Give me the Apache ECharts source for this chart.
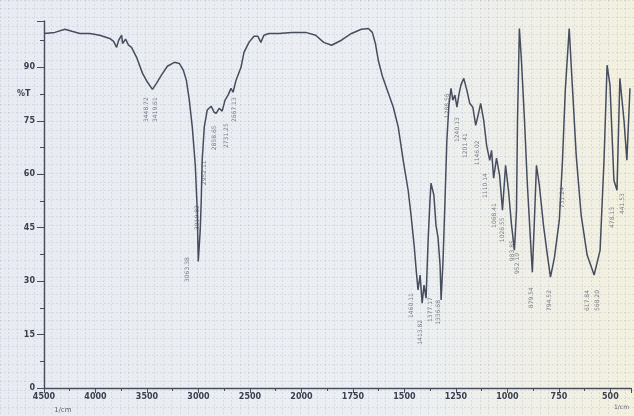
<!DOCTYPE html>
<html>
<head>
<meta charset="utf-8">
<script src="https://cdn.jsdelivr.net/npm/echarts@6/dist/echarts.min.js"></script>
<style>
  html, body { margin: 0; padding: 0; }
  #main { width: 634px; height: 416px; }
</style>
</head>
<body>
<div id="main"></div>
<script>
// IR spectrum, %T against wavenumber (scale changes at 2000)
var tickLabels = ['4500', '4000', '3500', '3000', '2500', '2000', '1750', '1500', '1250', '1000', '750', '500'];
var yTicks = [0, 15, 30, 45, 60, 75, 90];

var wavenumbers = [4500, 4394, 4297, 4229, 4152, 4056, 3959, 3862, 3824, 3795, 3775, 3746, 3737, 3708, 3679, 3650, 3601, 3543, 3495, 3447,
  3408, 3360, 3302, 3234, 3186, 3147, 3118, 3089, 3060, 3031, 3012, 3002, 2983, 2973, 2964, 2944, 2915, 2877, 2848, 2828,
  2799, 2770, 2742, 2713, 2684, 2664, 2635, 2587, 2558, 2510, 2461, 2423, 2394, 2365, 2316, 2220, 2094, 1979, 1931, 1892,
  1854, 1806, 1757, 1709, 1675, 1656, 1641, 1627, 1607, 1578, 1554, 1530, 1506, 1482, 1468, 1453, 1443, 1434, 1424, 1414,
  1405, 1395, 1385, 1376, 1371, 1357, 1347, 1337, 1327, 1322, 1313, 1303, 1294, 1284, 1274, 1265, 1255, 1245, 1236, 1226,
  1212, 1197, 1183, 1168, 1154, 1139, 1130, 1115, 1101, 1086, 1077, 1067, 1053, 1038, 1024, 1009, 995, 980, 966, 956,
  951, 942, 932, 917, 903, 888, 879, 869, 859, 845, 825, 806, 791, 772, 748, 733, 719, 700, 685, 666,
  642, 613, 579, 550, 531, 516, 502, 483, 468, 454, 434, 420, 405];
var transmittance = [99.5, 99.8, 100.7, 100.1, 99.5, 99.5, 99.0, 98.1, 97.3, 95.6, 97.6, 99.0, 96.7, 97.9, 96.2, 95.6, 92.8, 88.3, 85.8, 83.8,
  85.5, 87.8, 90.3, 91.4, 91.1, 89.2, 86.4, 80.8, 73.2, 62.5, 49.9, 35.5, 44.3, 52.7, 63.9, 73.2, 78.0, 79.1, 77.4, 77.1,
  78.5, 77.7, 80.8, 82.2, 84.1, 83.0, 86.4, 90.0, 94.2, 97.0, 98.7, 98.7, 97.0, 99.0, 99.5, 99.5, 99.8, 99.8, 99.0, 97.0,
  96.2, 97.6, 99.5, 100.7, 100.9, 99.8, 96.7, 92.0, 87.5, 82.7, 78.8, 73.2, 63.9, 55.5, 48.5, 40.1, 33.1, 27.5, 31.7, 23.8,
  28.9, 25.2, 41.5, 52.7, 57.5, 54.1, 45.7, 42.3, 34.5, 24.7, 35.3, 52.7, 69.5, 79.4, 84.1, 80.8, 82.2, 78.8, 82.2, 85.0,
  86.9, 83.6, 79.9, 78.8, 73.7, 77.4, 79.9, 75.1, 68.1, 63.9, 66.7, 58.9, 64.5, 59.7, 49.9, 62.5, 55.5, 45.7, 38.7, 49.9,
  75.1, 100.9, 92.0, 75.1, 56.9, 41.5, 32.5, 47.1, 62.5, 56.9, 45.7, 37.3, 31.1, 36.5, 47.1, 63.4, 83.6, 100.9, 85.0, 65.3,
  48.5, 37.3, 31.7, 38.7, 63.9, 90.6, 85.0, 58.3, 55.5, 86.9, 75.1, 63.9, 84.1];

// peak annotations: where each label starts and its text
var peakWn = [3505, 3418, 3109, 3012, 2944, 2848, 2732, 2655, 1468, 1424, 1376, 1337, 1289, 1241, 1202, 1144, 1105, 1062,
  1023, 975, 951, 883, 796, 733, 613, 564, 492, 444];
var peakT = [81.6, 81.6, 36.7, 51.3, 63.9, 73.7, 74.3, 81.6, 26.6, 19.1, 25.5, 24.7, 82.7, 76.0, 71.5, 69.5, 60.3, 51.9,
  47.9, 41.5, 37.9, 28.3, 27.5, 56.4, 27.5, 27.5, 50.8, 54.7];
var peakText = ['3448.72', '3419.61', '3063.38', '3010.82', '2952.11', '2858.65', '2731.25', '2667.13', '1460.11', '1413.82',
  '1377.17', '1336.68', '1288.56', '1240.13', '1201.41', '1146.02', '1110.14', '1068.41', '1026.55', '983.85', '952.10',
  '879.54', '794.52', '731.24', '617.84', '568.20', '478.13', '441.53'];

// the paper's axis: 500 per division above 2000, 250 per division below
function toPos(wn) {
  return wn >= 2000 ? (4500 - wn) / 500 : 5 + (2000 - wn) / 250;
}

var spectrum = wavenumbers.map(function (wn, i) { return [toPos(wn), transmittance[i]]; });
var peaks = peakWn.map(function (wn, i) { return { value: [toPos(wn), peakT[i]], name: peakText[i] }; });

var chart = echarts.init(document.getElementById('main'));
var ink = '#474d5b';

var option = {
  backgroundColor: new echarts.graphic.LinearGradient(0, 0, 1, 0, [
    { offset: 0, color: '#e8ecf2' },
    { offset: 0.65, color: '#eceff2' },
    { offset: 1, color: '#f3f0de' }
  ]),
  animation: false,
  grid: [
    { left: 44, right: 0, top: 21, bottom: 28 },
    { left: 0, right: 0, top: 0, bottom: 0 } // graph paper
  ],
  xAxis: [{
    type: 'value',
    gridIndex: 0,
    min: 0,
    max: 11.4,
    interval: 1,
    axisLine: { lineStyle: { color: ink, width: 1.4 } },
    axisTick: { length: 5, lineStyle: { color: ink } },
    minorTick: { show: true, splitNumber: 2, length: 3, lineStyle: { color: ink } },
    splitLine: { show: false },
    axisLabel: {
      margin: 5,
      fontSize: 8,
      fontWeight: 'bold',
      fontFamily: 'DejaVu Sans',
      color: '#3a4050',
      formatter: function (v) {
        var r = Math.round(v);
        return Math.abs(v - r) < 1e-6 && tickLabels[r] ? tickLabels[r] : '';
      }
    }
  }, {
    type: 'value',
    gridIndex: 1,
    min: 0,
    max: 74,
    interval: 1,
    axisLine: { show: false },
    axisTick: { show: false },
    axisLabel: { show: false },
    splitLine: { show: true, lineStyle: { color: 'rgba(140,150,175,0.22)', width: 1, type: [2, 2] } }
  }],
  yAxis: [{
    type: 'value',
    gridIndex: 0,
    min: 0,
    max: 103,
    interval: 15,
    axisLine: { show: true, lineStyle: { color: ink, width: 1.4 } },
    axisTick: { show: true, length: 7, lineStyle: { color: ink } },
    minorTick: { show: true, splitNumber: 2, length: 4, lineStyle: { color: ink } },
    splitLine: { show: false },
    axisLabel: {
      margin: 9,
      fontSize: 8,
      fontWeight: 'bold',
      fontFamily: 'DejaVu Sans',
      color: '#3a4050',
      showMaxLabel: false,
      formatter: function (v) { return yTicks.indexOf(v) >= 0 ? String(v) : ''; }
    }
  }, {
    type: 'value',
    gridIndex: 1,
    min: 0,
    max: 48,
    interval: 1,
    axisLine: { show: false },
    axisTick: { show: false },
    axisLabel: { show: false },
    splitLine: { show: true, lineStyle: { color: 'rgba(140,150,175,0.22)', width: 1, type: [2, 2] } }
  }],
  graphic: [
    { type: 'text', left: 17, top: 90, style: { text: '%T', fontSize: 8, fontWeight: 'bold', fontFamily: 'DejaVu Sans', fill: '#3a4050' } },
    { type: 'text', left: 54, top: 407, style: { text: '1/cm', fontSize: 7, fontFamily: 'DejaVu Sans', fill: '#5a6070' } },
    { type: 'text', left: 614, top: 404, style: { text: '1/cm', fontSize: 6, fontFamily: 'DejaVu Sans', fill: '#5a6070' } }
  ],
  series: [{
    name: 'spectrum',
    type: 'line',
    xAxisIndex: 0,
    yAxisIndex: 0,
    showSymbol: false,
    smooth: false,
    lineStyle: { color: '#464d5e', width: 1.5 },
    data: spectrum,
    z: 3
  }, {
    name: 'peaks',
    type: 'scatter',
    xAxisIndex: 0,
    yAxisIndex: 0,
    symbolSize: 0,
    silent: true,
    label: {
      show: true,
      position: [0, 0],
      rotate: 90,
      align: 'right',
      verticalAlign: 'middle',
      fontSize: 6,
      fontFamily: 'DejaVu Sans',
      color: '#5c6272',
      formatter: function (p) { return p.name; }
    },
    data: peaks,
    z: 2
  }]
};

chart.setOption(option);
</script>
</body>
</html>
